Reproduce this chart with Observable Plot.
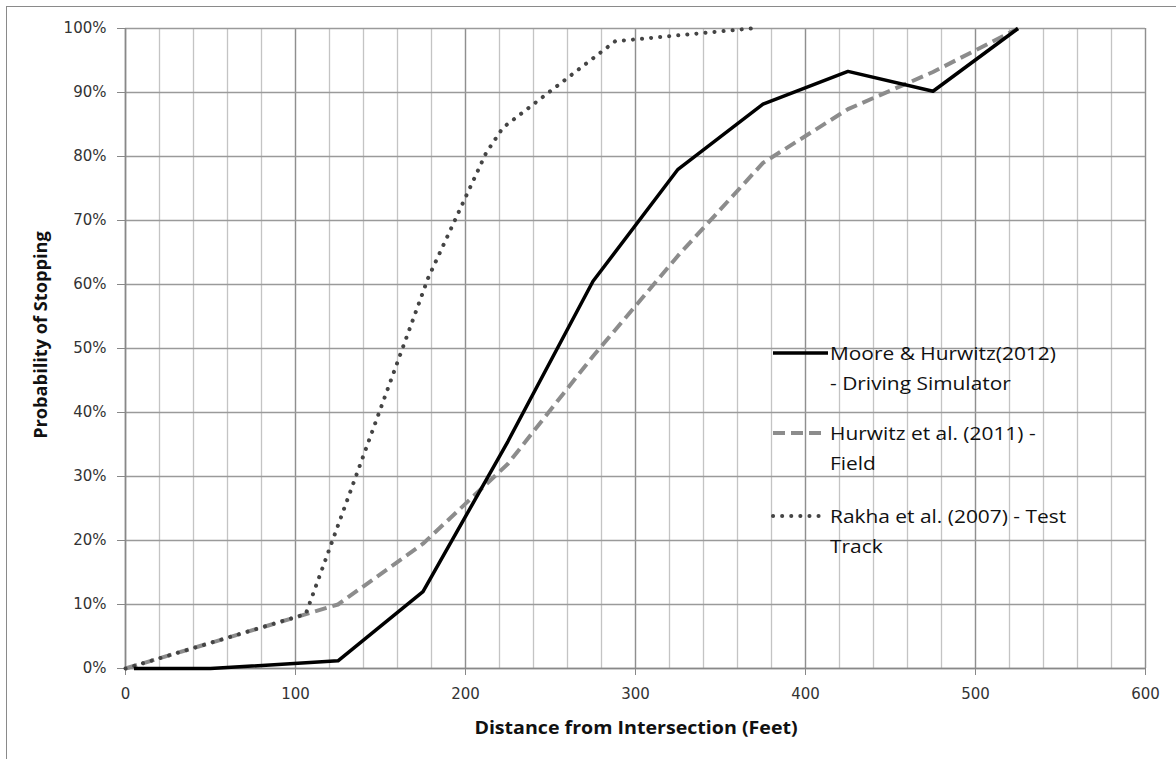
<!DOCTYPE html>
<html>
<head>
<meta charset="utf-8">
<script src="https://cdn.jsdelivr.net/npm/d3@7"></script>
<script src="https://cdn.jsdelivr.net/npm/@observablehq/plot@0.6"></script>
<style>
  html, body { margin: 0; padding: 0; background: #fff; }
  #wrap { position: relative; width: 1176px; height: 759px; overflow: hidden; }
  #frame { position: absolute; left: 6px; top: 6px; width: 1300px; height: 900px; border: 1.5px solid #8a8a8a; box-sizing: border-box; }
  #chart { position: absolute; left: 0; top: 0; }
  .ytitle { position: absolute; left: 40px; top: 335px; transform: translate(-50%, -50%) rotate(-90deg) scaleX(1.04); white-space: nowrap;
            font-family: "Open Sans", sans-serif; font-weight: bold; font-size: 17.5px; color: #111; }
  .xtitle { position: absolute; left: 636px; top: 727px; transform: translate(-50%, -50%) scaleX(1.12); white-space: nowrap;
            font-family: "Open Sans", sans-serif; font-weight: bold; font-size: 17.5px; color: #111; }
  .legend { position: absolute; left: 770px; top: 338px; font-family: "Open Sans", sans-serif; font-size: 19px; color: #111; }
  .item { position: relative; padding-left: 60px; line-height: 30px; }
  .item .t { transform: scaleX(1.1); transform-origin: 0 50%; white-space: nowrap; }
  .item svg { position: absolute; left: 0; top: 0; }
</style>
</head>
<body>
<div id="wrap">
  <div id="frame"></div>
  <div id="chart"></div>
  <div class="ytitle">Probability of Stopping</div>
  <div class="xtitle">Distance from Intersection (Feet)</div>
  <div class="legend" id="legend"></div>
</div>
<script>
// Moore & Hurwitz (2012) - Driving Simulator
const mooreX = [5, 50, 125, 175, 225, 275, 325, 375, 425, 475, 525];
const mooreY = [0, 0, 1.2, 12, 35.5, 60.5, 78, 88.2, 93.3, 90.2, 100];
// Hurwitz et al. (2011) - Field
const hurwitzX = [0, 125, 175, 225, 275, 325, 375, 425, 475, 525];
const hurwitzY = [0, 10, 19.5, 32, 48.8, 64.5, 79, 87.4, 93.2, 100];
// Rakha et al. (2007) - Test Track
const rakhaX = [0, 106, 178, 212, 222, 288, 368];
const rakhaY = [0, 8.5, 61, 80.5, 84.5, 98, 100];

const seriesNames = ["Moore & Hurwitz(2012)\n- Driving Simulator", "Hurwitz et al. (2011) -\nField", "Rakha et al. (2007) - Test\nTrack"];
const xTicks = [0, 100, 200, 300, 400, 500, 600];
const yTicks = [0, 10, 20, 30, 40, 50, 60, 70, 80, 90, 100];
const xMinorGrid = d3.range(0, 601, 20);

const toRows = (xs, ys) => xs.map((x, i) => ({x, y: ys[i]}));
const moore = toRows(mooreX, mooreY);
const hurwitz = toRows(hurwitzX, hurwitzY);
const rakha = toRows(rakhaX, rakhaY);

const styles = [
  {stroke: "#000", strokeWidth: 3.5, strokeDasharray: null, strokeLinecap: "butt"},
  {stroke: "#8c8c8c", strokeWidth: 4, strokeDasharray: "12,6", strokeLinecap: "butt"},
  {stroke: "#444", strokeWidth: 4, strokeDasharray: "0.1,9", strokeLinecap: "round"}
];

const chart = Plot.plot({
  width: 1176,
  height: 759,
  marginLeft: 125,
  marginRight: 31,
  marginTop: 28,
  marginBottom: 91,
  x: {domain: [0, 600]},
  y: {domain: [0, 100]},
  style: {background: "transparent", overflow: "visible", fontSize: "15px", fontFamily: "DejaVu Sans, sans-serif"},
  marks: [
    Plot.ruleX(xMinorGrid, {stroke: "#c4c4c4", strokeWidth: 1.3}),
    Plot.ruleX(xTicks, {stroke: "#8f8f8f", strokeWidth: 1.3}),
    Plot.ruleY(yTicks, {stroke: "#9a9a9a", strokeWidth: 1.4}),
    Plot.ruleX([0], {stroke: "#888", strokeWidth: 1.5}),
    Plot.ruleY([0], {stroke: "#888", strokeWidth: 1.5}),
    Plot.axisY({ticks: yTicks, tickFormat: d => d + "%", tickSize: 8, tickPadding: 11, label: null,
      stroke: "#888", fill: "#333"}),
    Plot.axisX({ticks: xTicks, tickSize: 7, tickPadding: 13, label: null,
      stroke: "#888", fill: "#333"}),
    Plot.line(hurwitz, {x: "x", y: "y", ...styles[1]}),
    Plot.line(rakha, {x: "x", y: "y", ...styles[2]}),
    Plot.line(moore, {x: "x", y: "y", ...styles[0], strokeLinejoin: "round"})
  ]
});
document.getElementById("chart").appendChild(chart);

// Legend (HTML overlay)
const legend = document.getElementById("legend");
const gaps = [20, 23, 0];
seriesNames.forEach((name, i) => {
  const item = document.createElement("div");
  item.className = "item";
  item.style.marginBottom = gaps[i] + "px";
  const s = styles[i];
  const ns = "http://www.w3.org/2000/svg";
  const svg = document.createElementNS(ns, "svg");
  svg.setAttribute("width", "58");
  svg.setAttribute("height", "30");
  const ln = document.createElementNS(ns, "line");
  ln.setAttribute("x1", "3"); ln.setAttribute("x2", i === 0 ? "58" : "53");
  ln.setAttribute("y1", "15"); ln.setAttribute("y2", "15");
  ln.setAttribute("stroke", s.stroke);
  ln.setAttribute("stroke-width", s.strokeWidth);
  if (s.strokeDasharray) ln.setAttribute("stroke-dasharray", s.strokeDasharray);
  ln.setAttribute("stroke-linecap", s.strokeLinecap);
  svg.appendChild(ln);
  item.appendChild(svg);
  name.split("\n").forEach(t => {
    const d = document.createElement("div");
    d.className = "t";
    d.textContent = t;
    item.appendChild(d);
  });
  legend.appendChild(item);
});
</script>
</body>
</html>
